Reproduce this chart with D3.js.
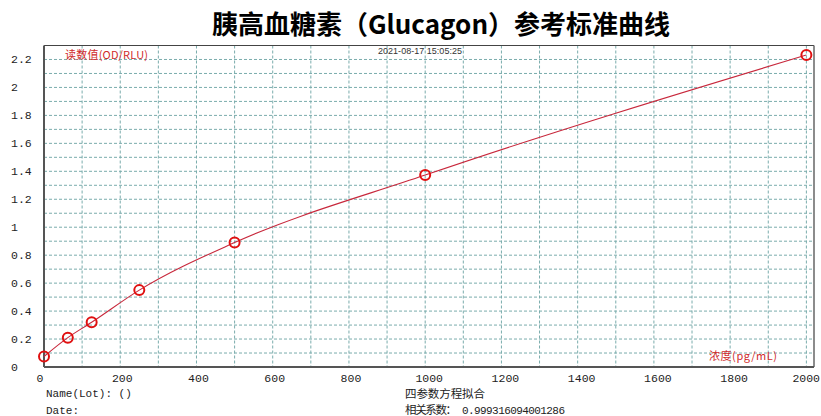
<!DOCTYPE html>
<html><head><meta charset="utf-8">
<script src="https://cdn.jsdelivr.net/npm/d3@7"></script>
<style>
body{margin:0;background:#fff;}
svg{display:block;}
</style></head><body>
<svg id="c" width="821" height="416"></svg>
<script>
const concentrations = [0, 62.5, 125, 250, 500, 1000, 2000];
const odValues = [0.075, 0.21, 0.32, 0.55, 0.89, 1.373, 2.232];
const xTicks = [0, 200, 400, 600, 800, 1000, 1200, 1400, 1600, 1800, 2000];
const yTicks = [0, 0.2, 0.4, 0.6, 0.8, 1, 1.2, 1.4, 1.6, 1.8, 2, 2.2];
const xGrid = d3.range(0, 2001, 100);
const yGrid = d3.range(0, 23).map(i => i / 10);

const svg = d3.select("#c");
const x = d3.scaleLinear().domain([0, 2020]).range([44, 814]);
const y = d3.scaleLinear().domain([0, 2.3]).range([367, 45.5]);
const mono = "'Liberation Mono','DejaVu Sans Mono',monospace";
const cjk = "'Noto Sans CJK SC','Noto Sans',sans-serif";

svg.append("text").attr("x", 441).attr("y", 34).attr("text-anchor", "middle")
  .attr("font-family", cjk).attr("font-weight", "bold").attr("font-size", 26)
  .attr("fill", "#000").text("胰高血糖素（Glucagon）参考标准曲线");

// grid
svg.append("g").selectAll("line").data(xGrid.slice(1)).join("line")
  .attr("x1", d => x(d)).attr("x2", d => x(d)).attr("y1", y(2.3)).attr("y2", y(0))
  .attr("stroke", "#7aacac").attr("stroke-width", 1).attr("stroke-dasharray", "3,2");
svg.append("g").selectAll("line").data(yGrid.slice(1)).join("line")
  .attr("x1", x(0)).attr("x2", x(2020)).attr("y1", d => y(d)).attr("y2", d => y(d))
  .attr("stroke", "#7aacac").attr("stroke-width", 1).attr("stroke-dasharray", "3,2");

// frame
svg.append("line").attr("x1", x(0)).attr("x2", x(2020)).attr("y1", y(2.3)).attr("y2", y(2.3)).attr("stroke", "#444").attr("stroke-width", 1);
svg.append("line").attr("x1", x(2020)).attr("x2", x(2020)).attr("y1", y(2.3)).attr("y2", y(0)).attr("stroke", "#666").attr("stroke-width", 1.5);
svg.append("line").attr("x1", x(0)).attr("x2", x(0)).attr("y1", y(2.3)).attr("y2", y(0)).attr("stroke", "#555").attr("stroke-width", 2);
svg.append("line").attr("x1", x(0)).attr("x2", x(2020)).attr("y1", y(0)).attr("y2", y(0)).attr("stroke", "#555").attr("stroke-width", 2);

// tick labels
svg.append("g").selectAll("text").data(yTicks).join("text")
  .attr("x", 11).attr("y", d => y(d) + 4).attr("font-family", mono).attr("font-size", 11.5)
  .attr("fill", "#222").text(d => d3.format("~g")(d));
svg.append("g").selectAll("text").data(xTicks).join("text")
  .attr("x", d => d === 2000 ? 820 : x(d) + (d === 0 ? -4 : (d >= 1000 ? 4 : 2)))
  .attr("y", 382)
  .attr("text-anchor", d => d === 2000 ? "end" : "middle")
  .attr("font-family", mono).attr("font-size", 11.5).attr("fill", "#222").text(d => d);

// in-plot labels
svg.append("text").attr("x", 65).attr("y", 59).attr("font-family", cjk).attr("font-size", 11)
  .attr("textLength", 83).attr("lengthAdjust", "spacing")
  .attr("fill", "#d02a2a").text("读数值(OD/RLU)");
svg.append("text").attr("x", 709).attr("y", 360).attr("font-family", cjk).attr("font-size", 11)
  .attr("textLength", 68).attr("lengthAdjust", "spacing")
  .attr("fill", "#d02a2a").text("浓度(pg/mL)");
svg.append("text").attr("x", 378).attr("y", 54).attr("font-family", "'Liberation Sans',Arial,sans-serif").attr("font-size", 9)
  .attr("textLength", 84).attr("lengthAdjust", "spacing")
  .attr("fill", "#333").text("2021-08-17 15:05:25");

// curve
const pts = concentrations.map((c, i) => [c, odValues[i]]);
svg.append("path").datum(pts)
  .attr("d", d3.line().x(d => x(d[0])).y(d => y(d[1])).curve(d3.curveMonotoneX))
  .attr("fill", "none").attr("stroke", "#c8283c").attr("stroke-width", 1.1);

svg.append("g").selectAll("circle").data(pts).join("circle")
  .attr("cx", d => x(d[0])).attr("cy", d => y(d[1])).attr("r", 5)
  .attr("fill", "none").attr("stroke", "#e01010").attr("stroke-width", 2);

// bottom info
const info = [
  {x: 46, y: 397, t: "Name(Lot): ()", f: mono, s: 11, w: null},
  {x: 46, y: 414, t: "Date:", f: mono, s: 11, w: null},
  {x: 405, y: 398, t: "四参数方程拟合", f: cjk, s: 11.5, w: 80},
  {x: 405, y: 414, t: "相关系数：", f: cjk, s: 11.5, w: 52},
  {x: 462, y: 414, t: "0.999316094001286", f: mono, s: 11, w: 103}
];
svg.append("g").selectAll("text").data(info).join("text")
  .attr("x", d => d.x).attr("y", d => d.y).attr("font-family", d => d.f).attr("font-size", d => d.s)
  .each(function(d){ if (d.w) d3.select(this).attr("textLength", d.w).attr("lengthAdjust", "spacing"); })
  .attr("fill", "#222").text(d => d.t);
</script>
</body></html>
